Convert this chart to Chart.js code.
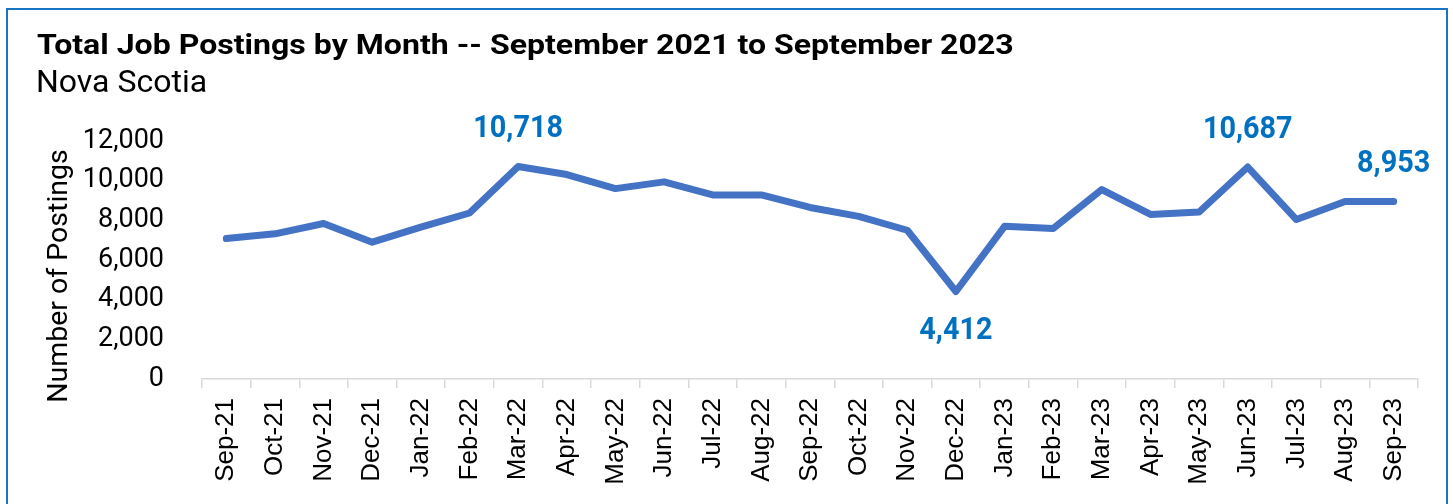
<!DOCTYPE html>
<html>
<head>
<meta charset="utf-8">
<script src="https://cdn.jsdelivr.net/npm/chart.js@4"></script>
<style>
html,body{margin:0;padding:0;background:#fff;}
#wrap{position:relative;width:1453px;height:504px;overflow:hidden;}
#frame{position:absolute;left:6px;top:8px;width:1442px;height:520px;border:2.5px solid #1a74c6;box-sizing:border-box;}
canvas{position:absolute;left:0;top:0;}
</style>
</head>
<body>
<div id="wrap">
<div id="frame"></div>
<canvas id="c" width="1453" height="504"></canvas>
</div>
<script>
const categories = ["Sep-21","Oct-21","Nov-21","Dec-21","Jan-22","Feb-22","Mar-22","Apr-22","May-22","Jun-22","Jul-22","Aug-22","Sep-22","Oct-22","Nov-22","Dec-22","Jan-23","Feb-23","Mar-23","Apr-23","May-23","Jun-23","Jul-23","Aug-23","Sep-23"];
const postings = [7080,7320,7840,6900,7660,8370,10718,10310,9600,9940,9280,9280,8650,8200,7500,4412,7700,7590,9550,8300,8420,10687,8040,8950,8953];
const labelledPoints = [6,15,21,24];
const labelBelow = [15];
const titleText = "Total Job Postings by Month -- September 2021 to September 2023";
const subtitleText = "Nova Scotia";
const yAxisTitle = "Number of Postings";

const textPlugin = {
  id: 'texts',
  afterDraw(chart) {
    const ctx = chart.ctx;
    const area = chart.chartArea;
    ctx.save();
    ctx.fillStyle = '#000';
    ctx.textAlign = 'left';
    ctx.textBaseline = 'alphabetic';
    ctx.save();
    ctx.translate(37, 54);
    ctx.scale(1.145, 1);
    ctx.font = 'bold 28px Roboto';
    ctx.fillText(titleText, 0, 0);
    ctx.restore();
    ctx.font = '32px Roboto';
    ctx.fillText(subtitleText, 36, 92);
    ctx.save();
    ctx.translate(60, (area.top + area.bottom) / 2 + 16);
    ctx.rotate(-Math.PI / 2);
    ctx.textAlign = 'center';
    ctx.textBaseline = 'middle';
    ctx.font = '28.5px Roboto';
    ctx.fillText(yAxisTitle, 0, 0);
    ctx.restore();
    ctx.restore();
  }
};

const dataLabelPlugin = {
  id: 'dataLabels',
  afterDatasetsDraw(chart) {
    const ctx = chart.ctx;
    const meta = chart.getDatasetMeta(0);
    ctx.save();
    ctx.fillStyle = '#0070C0';
    ctx.font = 'bold 32px Roboto';
    ctx.textAlign = 'center';
    ctx.textBaseline = 'middle';
    labelledPoints.forEach(i => {
      const pt = meta.data[i];
      const below = labelBelow.includes(i);
      const y = pt.y + (below ? 40 : -37);
      ctx.save();
      ctx.translate(pt.x, y);
      ctx.scale(0.9, 1);
      ctx.fillText(postings[i].toLocaleString('en-US'), 0, 0);
      ctx.restore();
    });
    ctx.restore();
  }
};

new Chart(document.getElementById('c'), {
  type: 'line',
  data: {
    labels: categories,
    datasets: [{
      data: postings,
      borderColor: '#4472C4',
      borderWidth: 7,
      pointRadius: 0,
      tension: 0,
      borderCapStyle: 'round',
      borderJoinStyle: 'round',
      fill: false
    }]
  },
  options: {
    responsive: false,
    animation: false,
    layout: { padding: { left: 37, right: 35, top: 141, bottom: 0 } },
    plugins: {
      legend: { display: false },
      tooltip: { enabled: false },
      title: { display: false },
      subtitle: { display: false }
    },
    scales: {
      x: {
        offset: true,
        grid: { offset: true, drawOnChartArea: false, color: '#d9d9d9', lineWidth: 1.5, tickLength: 9 },
        border: { display: true, color: '#d9d9d9', width: 1.5 },
        ticks: { color: '#000', minRotation: 90, maxRotation: 90, autoSkip: false, padding: 10,
                 font: { family: 'Liberation Sans', size: 26 } },
        afterFit(scale) { scale.height = 125; }
      },
      y: {
        min: 0, max: 12000,
        grid: { display: false },
        border: { display: false },
        ticks: { stepSize: 2000, color: '#000', padding: 30,
                 font: { family: 'Roboto', size: 27 },
                 callback: v => v.toLocaleString('en-US') },
        afterFit(scale) { scale.width = 165; }
      }
    }
  },
  plugins: [dataLabelPlugin, textPlugin]
});
</script>
</body>
</html>
